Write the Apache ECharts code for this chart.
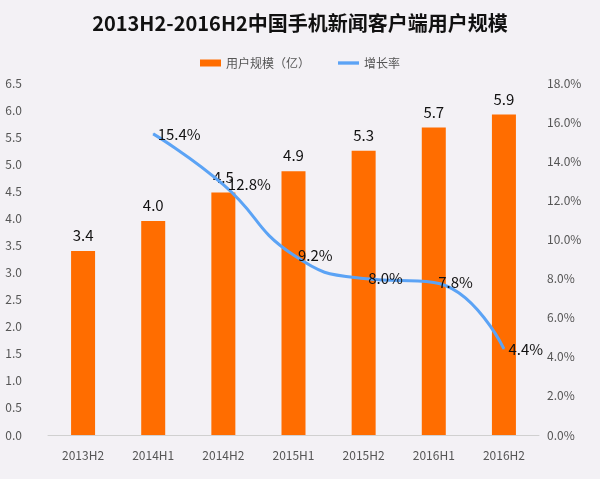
<!DOCTYPE html>
<html><head><meta charset="utf-8">
<script src="https://cdn.jsdelivr.net/npm/echarts@6/dist/echarts.min.js"></script>
<style>html,body{margin:0;padding:0;background:#f3f1f5}#c{width:600px;height:479px}</style>
</head><body><div id="c"></div>
<script>
const categories = ['2013H2','2014H1','2014H2','2015H1','2015H2','2016H1','2016H2'];
const users = [3.4, 3.95, 4.48, 4.87, 5.25, 5.68, 5.92];
const usersLabels = ['3.4','4.0','4.5','4.9','5.3','5.7','5.9'];
const growth = [null, 15.4, 12.8, 9.2, 8.0, 7.8, 4.4];
const leftTicks = {min:0, max:6.5, interval:0.5};
const rightTicks = {min:0, max:18, interval:2};
const font = '"Noto Sans CJK SC", sans-serif';
const chart = echarts.init(document.getElementById('c'), null, {renderer:'canvas'});
chart.setOption({
  backgroundColor:'#f3f1f5',
  animation:false,
  title:{text:'2013H2-2016H2中国手机新闻客户端用户规模', left:'center', top:8,
    textStyle:{fontFamily:font, fontSize:20, fontWeight:'bold', color:'#111'}},
  legend:{top:52, left:'center', itemGap:28, itemWidth:21, itemHeight:7, symbolKeepAspect:true,
    textStyle:{fontFamily:font, fontSize:12, color:'#555'},
    data:[{name:'用户规模（亿）', icon:'rect'}, {name:'增长率', icon:'path://M0,0h22v3.5h-22z'}]},
  grid:{left:48, right:61, top:83, bottom:44},
  xAxis:{type:'category', data:categories,
    axisLine:{lineStyle:{color:'#d0d0d0'}}, axisTick:{lineStyle:{color:'#d0d0d0'}},
    axisLabel:{fontFamily:font, fontSize:12, color:'#555', margin:14}},
  yAxis:[
    {type:'value', min:leftTicks.min, max:leftTicks.max, interval:leftTicks.interval,
      splitLine:{show:false}, axisLine:{show:false}, axisTick:{show:false},
      axisLabel:{fontFamily:font, fontSize:12, color:'#555', formatter:v=>v.toFixed(1), margin:26}},
    {type:'value', min:rightTicks.min, max:rightTicks.max, interval:rightTicks.interval,
      splitLine:{show:false}, axisLine:{show:false}, axisTick:{show:false},
      axisLabel:{fontFamily:font, fontSize:12, color:'#555', formatter:v=>v.toFixed(1)+'%', margin:8}}
  ],
  series:[
    {name:'用户规模（亿）', type:'bar', data:users, barWidth:24, itemStyle:{color:'#ff6d00'},
      label:{show:true, position:'top', distance:8, fontFamily:font, fontSize:15, color:'#111',
        formatter:p=>usersLabels[p.dataIndex]}},
    {name:'增长率', type:'line', yAxisIndex:1, data:growth, smooth:0.5, showSymbol:true, symbol:'circle', symbolSize:1,
      lineStyle:{color:'#5ba3f5', width:3}, itemStyle:{color:'#5ba3f5'},
      label:{show:true, position:'right', distance:4, offset:[0,0], fontFamily:font, fontSize:15, color:'#111',
        formatter:p=>p.value.toFixed(1)+'%'}}
  ]
});
</script></body></html>
